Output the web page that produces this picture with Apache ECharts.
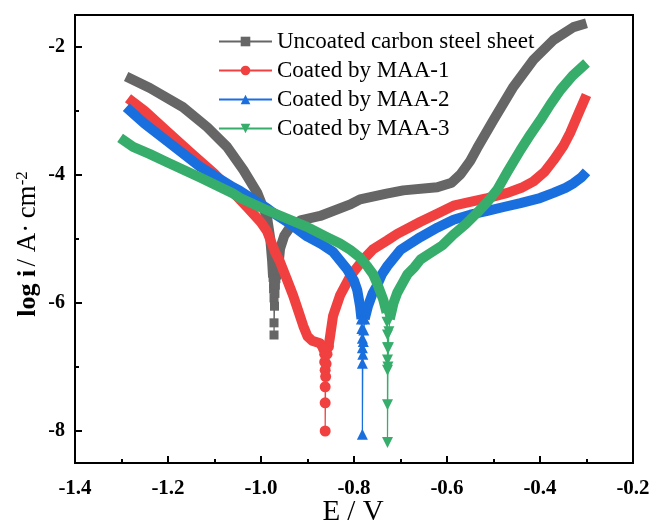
<!DOCTYPE html>
<html>
<head>
<meta charset="utf-8">
<script src="https://cdn.jsdelivr.net/npm/echarts@6/dist/echarts.min.js"></script>
<style>
html,body{margin:0;padding:0;background:#fff;}
#chart{width:651px;height:526px;}
</style>
</head>
<body>
<div id="chart"></div>
<script>
// ---- Data (E / V, log i) ----
const seriesNames = ['Uncoated carbon steel sheet', 'Coated by MAA-1', 'Coated by MAA-2', 'Coated by MAA-3'];
const xTicks = [-1.4, -1.2, -1.0, -0.8, -0.6, -0.4, -0.2];
const yMajorTicks = [-8, -6, -4, -2];
const yMinorTicks = [-7, -5, -3];
const xAxisTitle = 'E / V';
const yAxisTitle = '{b|log i} {r|/ A·\u2009cm}{s|-2}';

// Uncoated carbon steel sheet
const uncoatedCathodic = [[-1.290,-2.46],[-1.239,-2.64],[-1.168,-2.94],[-1.116,-3.25],[-1.073,-3.56],[-1.038,-3.92],[-1.008,-4.28],[-0.987,-4.66],[-0.980,-5.00],[-0.976,-5.35],[-0.974,-5.60]];
const uncoatedTail = [[-0.974,-5.60],[-0.973,-5.70],[-0.973,-5.78],[-0.972,-5.92],[-0.972,-6.31],[-0.972,-6.50],[-0.971,-6.05],[-0.970,-5.85],[-0.969,-5.72],[-0.968,-5.62]];
const uncoatedAnodic = [[-0.968,-5.62],[-0.963,-5.45],[-0.959,-5.15],[-0.950,-4.95],[-0.937,-4.81],[-0.915,-4.71],[-0.873,-4.64],[-0.808,-4.46],[-0.787,-4.38],[-0.730,-4.29],[-0.694,-4.24],[-0.621,-4.19],[-0.590,-4.12],[-0.571,-3.99],[-0.550,-3.78],[-0.535,-3.58],[-0.500,-3.14],[-0.457,-2.62],[-0.414,-2.20],[-0.371,-1.89],[-0.328,-1.69],[-0.300,-1.63]];

// Coated by MAA-1
const maa1Cathodic = [[-1.286,-2.80],[-1.250,-3.00],[-1.200,-3.33],[-1.150,-3.66],[-1.100,-3.98],[-1.060,-4.27],[-1.030,-4.50],[-1.000,-4.74],[-0.987,-4.88],[-0.970,-5.20],[-0.959,-5.36],[-0.945,-5.62],[-0.931,-5.88],[-0.920,-6.12],[-0.909,-6.36],[-0.900,-6.52],[-0.890,-6.59],[-0.873,-6.63],[-0.865,-6.72]];
const maa1Tail = [[-0.865,-6.72],[-0.863,-6.80],[-0.863,-6.92],[-0.862,-7.05],[-0.862,-7.31],[-0.862,-7.56],[-0.862,-8.00],[-0.861,-7.15],[-0.860,-6.95],[-0.858,-6.80],[-0.855,-6.68]];
const maa1Anodic = [[-0.855,-6.68],[-0.852,-6.55],[-0.845,-6.20],[-0.830,-5.88],[-0.808,-5.58],[-0.780,-5.32],[-0.759,-5.16],[-0.728,-5.02],[-0.707,-4.92],[-0.657,-4.73],[-0.620,-4.60],[-0.586,-4.48],[-0.550,-4.42],[-0.513,-4.36],[-0.470,-4.28],[-0.440,-4.20],[-0.414,-4.10],[-0.390,-3.95],[-0.371,-3.77],[-0.350,-3.55],[-0.335,-3.34],[-0.315,-3.00],[-0.300,-2.75]];

// Coated by MAA-2
const maa2Cathodic = [[-1.290,-2.94],[-1.250,-3.20],[-1.202,-3.47],[-1.131,-3.87],[-1.060,-4.19],[-1.045,-4.25],[-0.987,-4.52],[-0.974,-4.59],[-0.940,-4.75],[-0.901,-4.96],[-0.870,-5.08],[-0.845,-5.20],[-0.815,-5.47],[-0.800,-5.65],[-0.793,-5.80],[-0.787,-6.05],[-0.784,-6.25]];
const maa2Tail = [[-0.784,-6.25],[-0.783,-6.40],[-0.782,-6.55],[-0.782,-6.70],[-0.782,-6.94],[-0.782,-8.05],[-0.781,-6.80],[-0.780,-6.60],[-0.779,-6.42],[-0.777,-6.25]];
const maa2Anodic = [[-0.777,-6.25],[-0.770,-6.05],[-0.760,-5.85],[-0.750,-5.72],[-0.740,-5.55],[-0.728,-5.42],[-0.700,-5.17],[-0.657,-4.97],[-0.620,-4.82],[-0.586,-4.70],[-0.550,-4.62],[-0.513,-4.56],[-0.478,-4.50],[-0.442,-4.44],[-0.400,-4.36],[-0.371,-4.28],[-0.345,-4.20],[-0.328,-4.13],[-0.310,-4.03],[-0.300,-3.95]];

// Coated by MAA-3
const maa3Cathodic = [[-1.303,-3.42],[-1.275,-3.56],[-1.240,-3.67],[-1.202,-3.80],[-1.131,-4.04],[-1.060,-4.29],[-1.045,-4.36],[-0.987,-4.55],[-0.974,-4.59],[-0.901,-4.81],[-0.858,-4.97],[-0.830,-5.07],[-0.808,-5.17],[-0.787,-5.29],[-0.772,-5.42],[-0.759,-5.55],[-0.750,-5.70],[-0.737,-5.95],[-0.730,-6.15]];
const maa3Tail = [[-0.730,-6.15],[-0.729,-6.30],[-0.728,-6.50],[-0.728,-6.70],[-0.728,-6.89],[-0.728,-7.05],[-0.728,-7.59],[-0.728,-8.18],[-0.727,-7.00],[-0.726,-6.70],[-0.725,-6.45],[-0.723,-6.25]];
const maa3Anodic = [[-0.723,-6.25],[-0.715,-6.00],[-0.707,-5.84],[-0.695,-5.68],[-0.685,-5.55],[-0.670,-5.44],[-0.657,-5.32],[-0.636,-5.22],[-0.610,-5.10],[-0.586,-4.93],[-0.560,-4.77],[-0.535,-4.59],[-0.513,-4.42],[-0.492,-4.23],[-0.470,-3.95],[-0.442,-3.61],[-0.420,-3.36],[-0.399,-3.14],[-0.378,-2.90],[-0.356,-2.67],[-0.330,-2.45],[-0.300,-2.25]];

const colors = ['#666666', '#F14040', '#1A6FDF', '#37AD6B'];
const symbols = ['rect', 'circle', 'triangle', 'path://M0,0 L10,0 L5,9 Z'];
const symbolSizes = [9, 11, 11, 11];

const curves = [
  [uncoatedCathodic, uncoatedTail, uncoatedAnodic],
  [maa1Cathodic, maa1Tail, maa1Anodic],
  [maa2Cathodic, maa2Tail, maa2Anodic],
  [maa3Cathodic, maa3Tail, maa3Anodic]
];

const FONT = 'Liberation Serif';
const series = [];
curves.forEach((c, i) => {
  const band = (data, suffix) => ({
    name: seriesNames[i] + suffix,
    type: 'line',
    data: data,
    showSymbol: false,
    symbol: 'none',
    lineStyle: { color: colors[i], width: 10, cap: 'butt', join: 'round' },
    itemStyle: { color: colors[i] },
    z: 2 + i,
    silent: true,
    animation: false
  });
  series.push(band(c[0], ' cathodic'));
  series.push(band(c[2], ' anodic'));
  series.push({
    name: seriesNames[i],
    type: 'line',
    data: c[1],
    symbol: symbols[i],
    symbolSize: symbolSizes[i],
    showAllSymbol: true,
    lineStyle: { color: colors[i], width: 1.2 },
    itemStyle: { color: colors[i] },
    z: 2 + i,
    animation: false
  });
});

const chart = echarts.init(document.getElementById('chart'), null, { renderer: 'canvas' });
chart.setOption({
  backgroundColor: '#ffffff',
  animation: false,
  grid: { left: 75, right: 18, top: 15, bottom: 63, show: true, borderColor: '#000', borderWidth: 2, backgroundColor: 'transparent', containLabel: false, outerBoundsMode: 'none' },
  legend: {
    data: seriesNames,
    orient: 'vertical',
    left: 218,
    top: 30,
    padding: 0,
    itemWidth: 53,
    itemHeight: 12,
    itemGap: 6,
    textStyle: { fontFamily: FONT, fontSize: 23, color: '#000' }
  },
  graphic: [
    {
      type: 'text', x: 353, y: 512, silent: true,
      style: { text: xAxisTitle, fontFamily: FONT, fontSize: 29, fill: '#000', align: 'center', verticalAlign: 'middle' }
    },
    {
      type: 'text', x: 28, y: 244, rotation: Math.PI / 2, silent: true,
      style: {
        text: yAxisTitle, align: 'center', verticalAlign: 'middle', fill: '#000',
        rich: {
          b: { fontFamily: FONT, fontSize: 26, fontWeight: 'bold', fill: '#000' },
          r: { fontFamily: FONT, fontSize: 27, fill: '#000' },
          s: { fontFamily: FONT, fontSize: 17, fill: '#000', verticalAlign: 'top' }
        }
      }
    }
  ],
  xAxis: {
    type: 'value',
    min: -1.4, max: -0.2, interval: 0.2,
    axisLine: { lineStyle: { color: '#000', width: 2 } },
    axisTick: { inside: true, length: 7, lineStyle: { color: '#000', width: 2 } },
    minorTick: { show: true, splitNumber: 2, length: 4, lineStyle: { color: '#000', width: 2 } },
    splitLine: { show: false },
    axisLabel: { fontFamily: FONT, fontSize: 21, fontWeight: 'bold', color: '#000', margin: 15, formatter: v => v.toFixed(1) },
    data: xTicks
  },
  yAxis: [{
    type: 'value',
    min: -8.5, max: -1.5,
    position: 'left',
    axisLine: { lineStyle: { color: '#000', width: 2 } },
    axisTick: { inside: true, length: 7, customValues: yMajorTicks, lineStyle: { color: '#000', width: 2 } },
    splitLine: { show: false },
    axisLabel: { customValues: yMajorTicks, fontFamily: FONT, fontSize: 20, fontWeight: 'bold', color: '#000', margin: 10, formatter: v => String(v) }
  }, {
    type: 'value',
    min: -8.5, max: -1.5,
    position: 'left',
    offset: 0,
    axisLine: { show: false },
    axisTick: { inside: true, length: 4, customValues: yMinorTicks, lineStyle: { color: '#000', width: 2 } },
    axisLabel: { show: false },
    splitLine: { show: false }
  }],
  series: series
});
</script>
</body>
</html>
